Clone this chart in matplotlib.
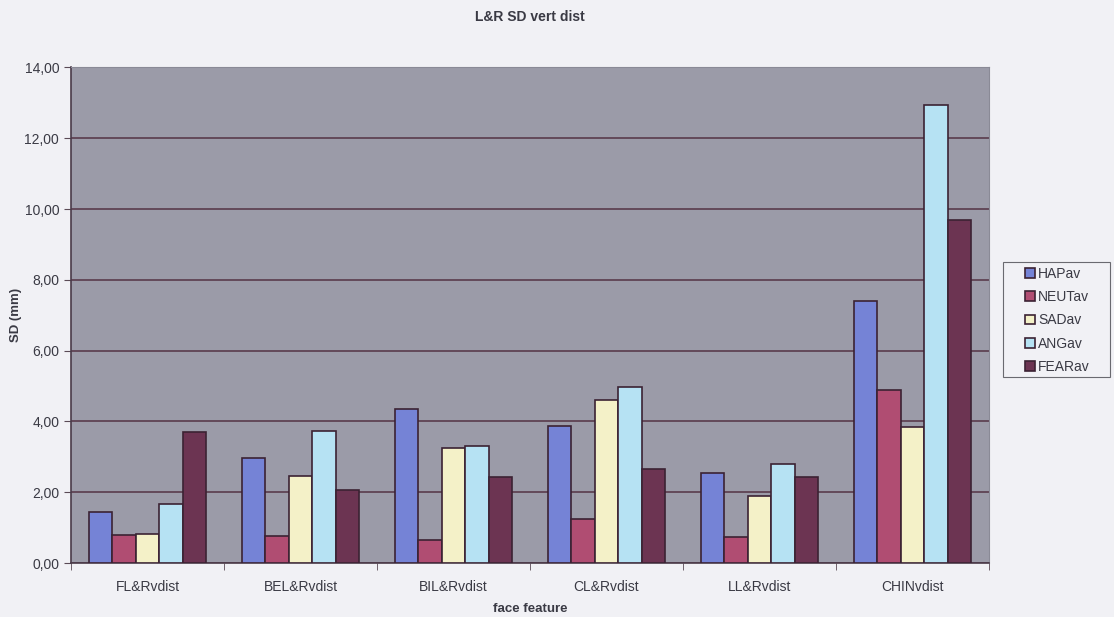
import matplotlib
matplotlib.use("Agg")
import matplotlib.pyplot as plt
import matplotlib.ticker as mticker
from matplotlib.patches import Rectangle
import numpy as np

categories = ["FL&Rvdist", "BEL&Rvdist", "BIL&Rvdist", "CL&Rvdist", "LL&Rvdist", "CHINvdist"]
series_names = ["HAPav", "NEUTav", "SADav", "ANGav", "FEARav"]

hap = [1.43, 2.97, 4.34, 3.88, 2.54, 7.40]
neut = [0.78, 0.76, 0.64, 1.24, 0.73, 4.90]
sad = [0.83, 2.47, 3.24, 4.60, 1.90, 3.84]
ang = [1.67, 3.72, 3.31, 4.97, 2.79, 12.94]
fear = [3.70, 2.06, 2.42, 2.65, 2.43, 9.70]

colors = ["#7583d6", "#b04d72", "#f4f1c8", "#b6e2f3", "#6c3452"]

plt.rcParams["font.family"] = ["Liberation Sans", "DejaVu Sans"]
text_col = "#3a3a44"
W, H = 1114, 617

fig = plt.figure(figsize=(W / 100, H / 100), dpi=100)
fig.patch.set_facecolor("#f1f1f5")
ax = fig.add_axes([0.0637, 0.0875, 0.8241, 0.8031])
ax.set_facecolor("#9b9ba8")

# excel style: gap width 150% -> each bar is 1/6.5 of a category
bw = 1 / 6.5
x = np.arange(len(categories))
for i, (name, vals) in enumerate(zip(series_names, [hap, neut, sad, ang, fear])):
    ax.bar(x + (i - 2) * bw, vals, bw, color=colors[i], edgecolor="#3b2233",
           linewidth=1.2, label=name, zorder=3)

ax.set_xlim(-0.5, len(categories) - 0.5)
ax.set_ylim(0, 14)
ax.yaxis.set_major_locator(mticker.MultipleLocator(2))
ax.yaxis.set_major_formatter(mticker.FuncFormatter(lambda v, p: f"{v:.2f}".replace(".", ",")))
ax.grid(axis="y", color="#5a3c4c", linewidth=1.2, zorder=1)

ax.set_xticks(x)
ax.set_xticklabels(categories)
ax.set_xticks(np.arange(len(categories) + 1) - 0.5, minor=True)
ax.tick_params(axis="x", which="major", length=0, pad=12, labelsize=10, labelcolor=text_col)
ax.tick_params(axis="x", which="minor", length=5, color="#5a4a55")
ax.tick_params(axis="y", length=5, color="#5a4a55", labelsize=10, labelcolor=text_col)

for side in ["left", "bottom"]:
    ax.spines[side].set_color("#4a3a48")
    ax.spines[side].set_linewidth(1.2)
for side in ["top", "right"]:
    ax.spines[side].set_color("#8a8a96")
    ax.spines[side].set_linewidth(0.8)

fig.text(530 / W, 1 - 17 / H, "L&R SD vert dist", fontsize=10, fontweight="bold",
         color=text_col, ha="center", va="center")
ax.set_xlabel("face feature", fontsize=9.5, fontweight="bold", color=text_col, labelpad=7)
ax.set_ylabel("SD (mm)", fontsize=9.5, fontweight="bold", color=text_col)
ax.yaxis.set_label_coords(-(71 - 22) / (0.8241 * W), 0.5)

# legend frame drawn separately so the box can be sized freely
fig.patches.append(Rectangle((1003 / W, 1 - 377 / H), 107 / W, 115 / H,
                             transform=fig.transFigure, facecolor="#f1f1f5",
                             edgecolor="#6a6a70", linewidth=0.8, zorder=0))
leg = fig.legend(loc="upper left", bbox_to_anchor=(1025 / W, 1 - 267 / H), frameon=False,
                 fontsize=10, handlelength=0.7, handleheight=0.7, borderpad=0,
                 borderaxespad=0, handletextpad=0.25, labelspacing=0.66)
for t in leg.get_texts():
    t.set_color(text_col)

fig.savefig("out.png", dpi=100, facecolor=fig.get_facecolor())
